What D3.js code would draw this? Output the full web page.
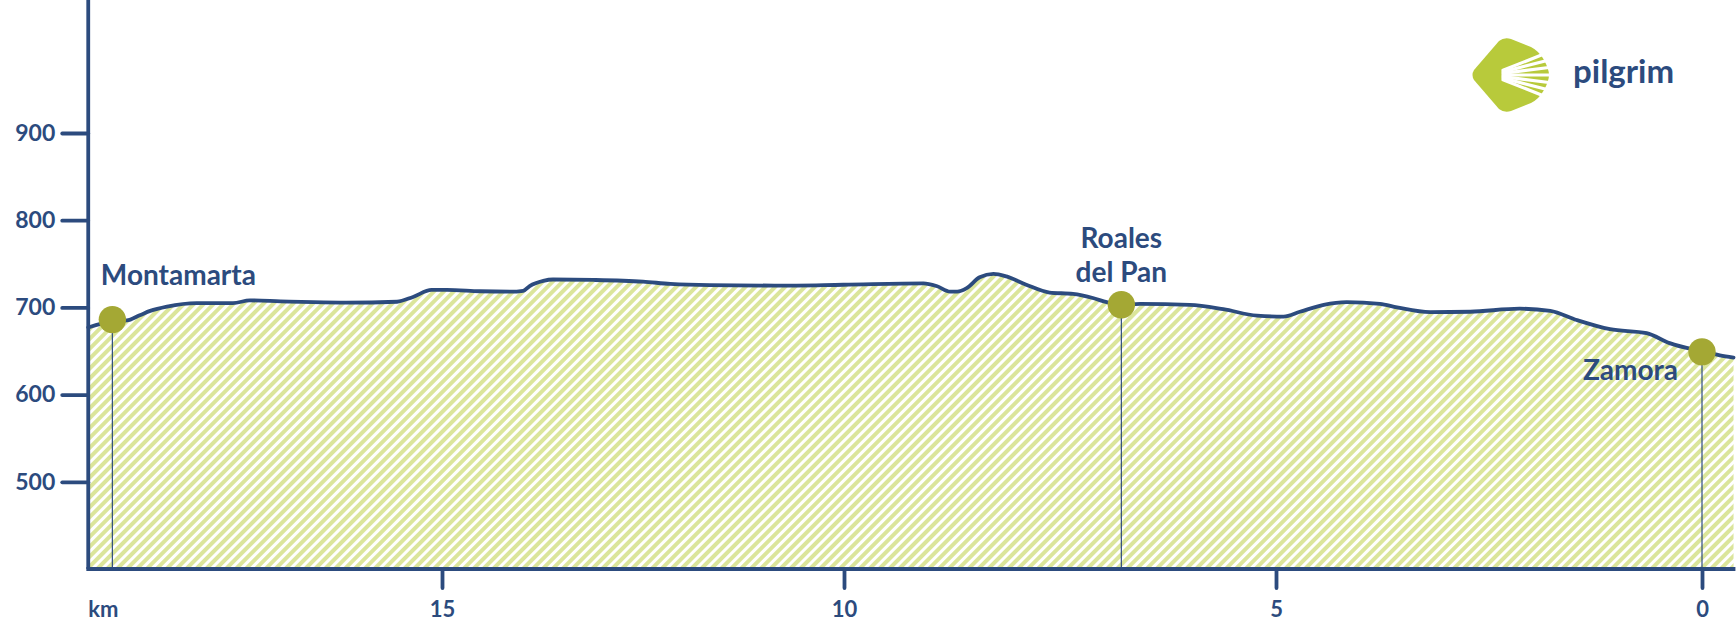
<!DOCTYPE html>
<html>
<head>
<meta charset="utf-8">
<script src="https://cdn.jsdelivr.net/npm/d3@7"></script>
<style>
  html, body { margin: 0; padding: 0; background: #ffffff; }
  svg { display: block; }
  text { font-family: Lato, "Noto Sans", sans-serif; font-weight: 700; fill: #2c4b7e; }
</style>
</head>
<body>
<svg id="chart" width="1736" height="623"></svg>
<script>
// ---------- data ----------
const profileKm = [19.40, 19.10, 18.92, 18.76, 18.63, 18.42, 18.05, 17.60, 17.39, 17.01,
  16.60, 16.19, 15.56, 15.36, 15.13, 14.94, 14.53, 14.15, 13.99, 13.91,
  13.74, 13.62, 13.12, 12.50, 12.16, 11.67, 10.84, 10.01, 9.08, 8.93,
  8.77, 8.69, 8.58, 8.43, 8.27, 8.12, 7.89, 7.62, 7.35, 7.11,
  6.96, 6.79, 6.57, 6.00, 5.61, 5.22, 4.91, 4.72, 4.44, 4.17,
  3.78, 3.58, 3.19, 2.72, 2.14, 1.78, 1.47, 1.08, 0.65, 0.38,
  0.00, -0.21, -0.37];
const profileElev = [677, 684, 685, 691, 696, 701, 705, 705, 708, 707,
  706, 705.5, 706.5, 712, 720, 720, 718.5, 718, 719, 724.5,
  730.5, 732, 731.5, 729.5, 727, 725.5, 725, 726, 727.5, 724.5,
  718, 718, 722, 734.5, 738.5, 735.5, 726, 717, 715.5, 710.5,
  706, 703, 704, 703, 698, 690.5, 689.5, 695, 703, 706,
  704, 700, 694.5, 695, 698.5, 696, 685.5, 675, 670.5, 659,
  649.5, 645, 642.5];

const stopNames = ["Montamarta", "Roales del Pan", "Zamora"];
const stopKm = [19.10, 6.79, 0.00];
const stopElev = [686, 703, 649];

const xTickValues = [15, 10, 5, 0];
const xTickLabels = ["15", "10", "5", "0"];
const xUnitLabel = "km";
const yTickValues = [500, 600, 700, 800, 900];
const yTickLabels = ["500", "600", "700", "800", "900"];
const brandName = "pilgrim";

// ---------- setup ----------
const NAVY = "#2c4b7e";
const OLIVE = "#a4a834";
const HATCH = "#dbe59b";
const LIME = "#b8ca3b";

const svg = d3.select("#chart");

// distance axis runs from Montamarta (left) to Zamora (right), reversed km
const x = d3.scaleLinear()
  .domain([15, 10, 5, 0])
  .range([442, 844, 1276, 1702]);
const y = d3.scaleLinear()
  .domain([400, 900])
  .range([569, 133]);

const x0 = x(d3.max(profileKm));
const x1 = x(d3.min(profileKm));
const yBase = y(400);

const defs = svg.append("defs");
const pat = defs.append("pattern")
  .attr("id", "hatch")
  .attr("patternUnits", "userSpaceOnUse")
  .attr("width", 7)
  .attr("height", 7)
  .attr("patternTransform", "rotate(45)");
pat.append("rect").attr("width", 7).attr("height", 7).attr("fill", "#ffffff");
pat.append("rect").attr("width", 4).attr("height", 7).attr("fill", HATCH);

const pts = profileKm.map((k, i) => [k, profileElev[i]]);

const area = d3.area()
  .x(d => x(d[0]))
  .y0(yBase)
  .y1(d => y(d[1]))
  .curve(d3.curveMonotoneX);
const line = d3.line()
  .x(d => x(d[0]))
  .y(d => y(d[1]))
  .curve(d3.curveMonotoneX);

// monotoneX needs increasing x; sort by pixel x
const ptsSorted = pts.slice().sort((a, b) => x(a[0]) - x(b[0]));

svg.append("path")
  .attr("d", area(ptsSorted))
  .attr("fill", "url(#hatch)");

// stop drop lines
svg.append("g").selectAll("line")
  .data(stopKm)
  .join("line")
  .attr("x1", d => x(d)).attr("x2", d => x(d))
  .attr("y1", (d, i) => y(stopElev[i]))
  .attr("y2", yBase)
  .attr("stroke", NAVY)
  .attr("stroke-width", 1.2);

svg.append("path")
  .attr("d", line(ptsSorted))
  .attr("fill", "none")
  .attr("stroke", NAVY)
  .attr("stroke-width", 3.8)
  .attr("stroke-linejoin", "round")
  .attr("stroke-linecap", "round");

// ---------- axes ----------
const yAxis = d3.axisLeft(y)
  .tickValues(yTickValues)
  .tickFormat((d, i) => yTickLabels[i])
  .tickSize(26)
  .tickPadding(7);
const gy = svg.append("g").attr("transform", `translate(${x0},0)`).call(yAxis);
gy.select(".domain").remove();
gy.selectAll(".tick line").attr("stroke", NAVY).attr("stroke-width", 3.8).attr("stroke-linecap", "round");
gy.selectAll(".tick text")
  .attr("fill", NAVY)
  .style("font-size", "23px")
  .style("font-family", "Lato, sans-serif")
  .style("font-weight", "700");

const xAxis = d3.axisBottom(x)
  .tickValues(xTickValues)
  .tickFormat((d, i) => xTickLabels[i])
  .tickSize(19);
const gx = svg.append("g").attr("transform", `translate(0,${yBase})`).call(xAxis);
gx.select(".domain").remove();
gx.selectAll(".tick line").attr("stroke", NAVY).attr("stroke-width", 3.8).attr("stroke-linecap", "round");
gx.selectAll(".tick text")
  .attr("y", 48).attr("dy", 0)
  .attr("fill", NAVY)
  .style("font-size", "22px")
  .style("font-family", "Lato, sans-serif")
  .style("font-weight", "700");

svg.append("text")
  .attr("x", x0)
  .attr("y", yBase + 48)
  .style("font-size", "22px")
  .text(xUnitLabel);

// axis lines
svg.append("line")
  .attr("x1", x0).attr("x2", x0)
  .attr("y1", 0).attr("y2", yBase)
  .attr("stroke", NAVY).attr("stroke-width", 3.8);
svg.append("line")
  .attr("x1", x0).attr("x2", x1)
  .attr("y1", yBase).attr("y2", yBase)
  .attr("stroke", NAVY).attr("stroke-width", 3.8).attr("stroke-linecap", "square");

// ---------- stops ----------
svg.append("g").selectAll("circle")
  .data(stopKm)
  .join("circle")
  .attr("cx", d => x(d))
  .attr("cy", (d, i) => y(stopElev[i]))
  .attr("r", 13.7)
  .attr("fill", OLIVE);

const labelFont = "28px";
// Montamarta
svg.append("text")
  .attr("x", x(stopKm[0]) - 11.5)
  .attr("y", y(stopElev[0]) - 35)
  .style("font-size", labelFont)
  .text(stopNames[0]);
// Roales del Pan (two lines, centred)
const rp = stopNames[1].split(" ");
const tRP = svg.append("text")
  .attr("text-anchor", "middle")
  .style("font-size", labelFont);
tRP.append("tspan").attr("x", x(stopKm[1])).attr("y", y(stopElev[1]) - 57).text(rp[0]);
tRP.append("tspan").attr("x", x(stopKm[1])).attr("y", y(stopElev[1]) - 23).text(rp.slice(1).join(" "));
// Zamora
svg.append("text")
  .attr("x", x(stopKm[2]) - 24)
  .attr("y", y(stopElev[2]) + 28)
  .attr("text-anchor", "end")
  .style("font-size", labelFont)
  .text(stopNames[2]);

// ---------- logo ----------
const logo = svg.append("g").attr("transform", "translate(1473,75)");
logo.append("path")
  .attr("d", "M1,-5 Q-2,0 1,5 L26,34 Q31,38 38,36 L58,28 Q66,24 71,15 Q76,6 76,0 Q76,-6 71,-15 Q66,-24 58,-28 L38,-36 Q31,-38 26,-34 Z")
  .attr("fill", LIME);
// white gaps between the rays (fan from a point on the left)
const gapDy = [-23, -15, -7.5, 0, 7.5, 15, 23];
const fanX = 18;
logo.selectAll("line.gap")
  .data(gapDy)
  .join("line")
  .attr("class", "gap")
  .attr("x1", fanX + 12)
  .attr("y1", d => d * 12 / 58)
  .attr("x2", fanX + 66)
  .attr("y2", d => d * 66 / 58)
  .attr("stroke", "#ffffff")
  .attr("stroke-width", 3.2)
  .attr("stroke-linecap", "round");

svg.append("text")
  .attr("x", 1573)
  .attr("y", 83)
  .style("font-size", "33px")
  .text(brandName);
</script>
</body>
</html>
